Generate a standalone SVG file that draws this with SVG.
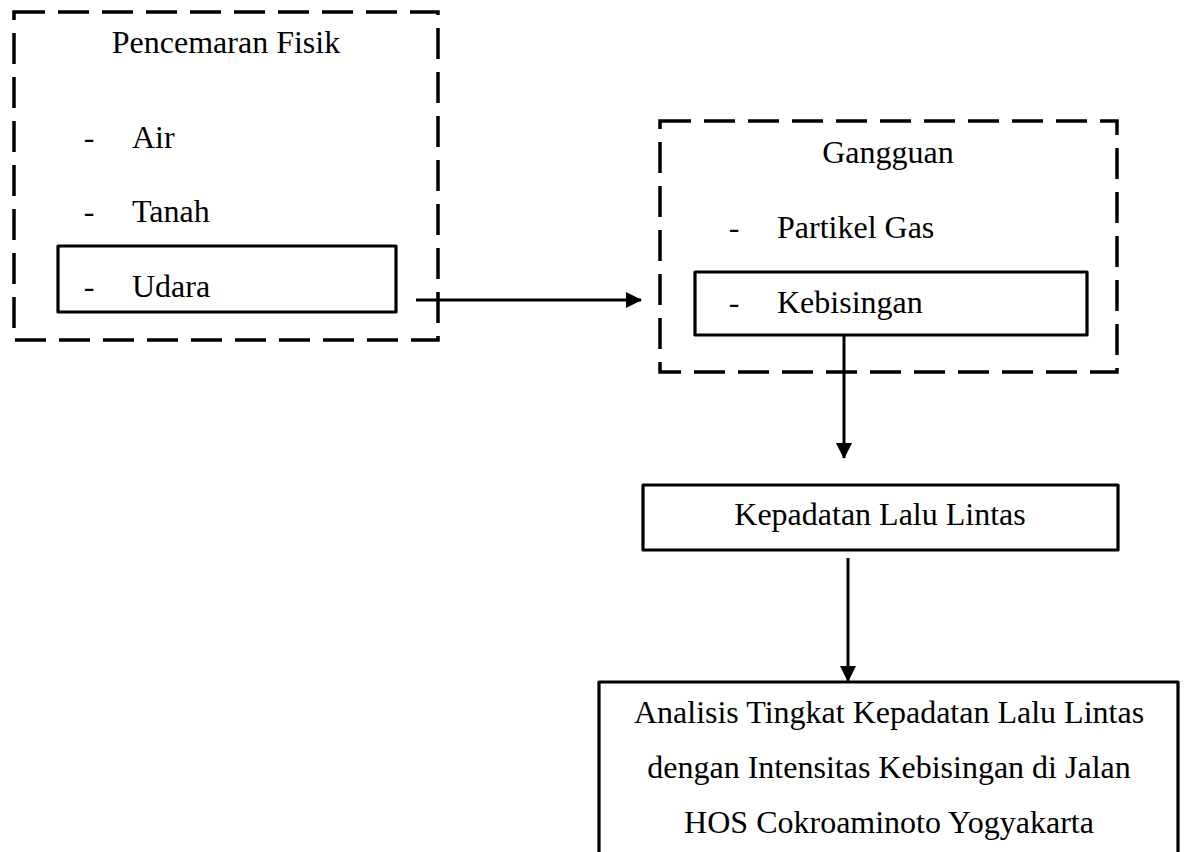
<svg xmlns="http://www.w3.org/2000/svg" width="1186" height="852" viewBox="0 0 1186 852">
  <defs>
    <marker id="arrow" markerUnits="userSpaceOnUse" markerWidth="16" markerHeight="16" viewBox="0 0 16 16" refX="15" refY="8" orient="auto">
      <path d="M0,0 L16,8 L0,16 Z" fill="#000"/>
    </marker>
    <style>
      .dashed { fill: none; stroke: #000; stroke-width: 3.5; stroke-dasharray: 31 13; }
      .solid { fill: none; stroke: #000; stroke-width: 3.2; stroke-linejoin: round; }
      .conn { fill: none; stroke: #000; stroke-width: 3; marker-end: url(#arrow); }
      text { font-family: "Liberation Serif", "Times New Roman", serif; font-size: 32px; fill: #000; }
      .c { text-anchor: middle; }
    </style>
  </defs>
  <rect width="1186" height="852" fill="#fff"/>

  <g id="pencemaran-fisik">
    <rect class="dashed" x="14" y="12" width="424" height="328"/>
    <text class="c" x="226" y="53">Pencemaran Fisik</text>
    <text class="c" x="89" y="148">-</text>
    <text x="132" y="148">Air</text>
    <text class="c" x="89" y="222">-</text>
    <text x="132" y="222">Tanah</text>
  </g>

  <g id="udara">
    <rect class="solid" x="58" y="246" width="338" height="66"/>
    <text class="c" x="89" y="297">-</text>
    <text x="132" y="297">Udara</text>
  </g>

  <g id="gangguan">
    <rect class="dashed" x="660" y="121" width="457" height="251"/>
    <text class="c" x="888" y="163">Gangguan</text>
    <text class="c" x="734" y="238">-</text>
    <text x="777" y="238">Partikel Gas</text>
  </g>

  <g id="kebisingan">
    <rect class="solid" x="695" y="272" width="392" height="63"/>
    <text class="c" x="734" y="313">-</text>
    <text x="777" y="313">Kebisingan</text>
  </g>

  <g id="kepadatan">
    <rect class="solid" x="643" y="485" width="475" height="65"/>
    <text class="c" x="880" y="525">Kepadatan Lalu Lintas</text>
  </g>

  <g id="analisis">
    <rect class="solid" x="599" y="682" width="579" height="200"/>
    <text class="c" x="889" y="723">Analisis Tingkat Kepadatan Lalu Lintas</text>
    <text class="c" x="889" y="778">dengan Intensitas Kebisingan di Jalan</text>
    <text class="c" x="889" y="833">HOS Cokroaminoto Yogyakarta</text>
  </g>

  <g id="connectors">
    <line class="conn" x1="416" y1="300" x2="641" y2="300"/>
    <line class="conn" x1="844" y1="335" x2="844" y2="458"/>
    <line class="conn" x1="848" y1="558" x2="848" y2="681"/>
  </g>
</svg>
